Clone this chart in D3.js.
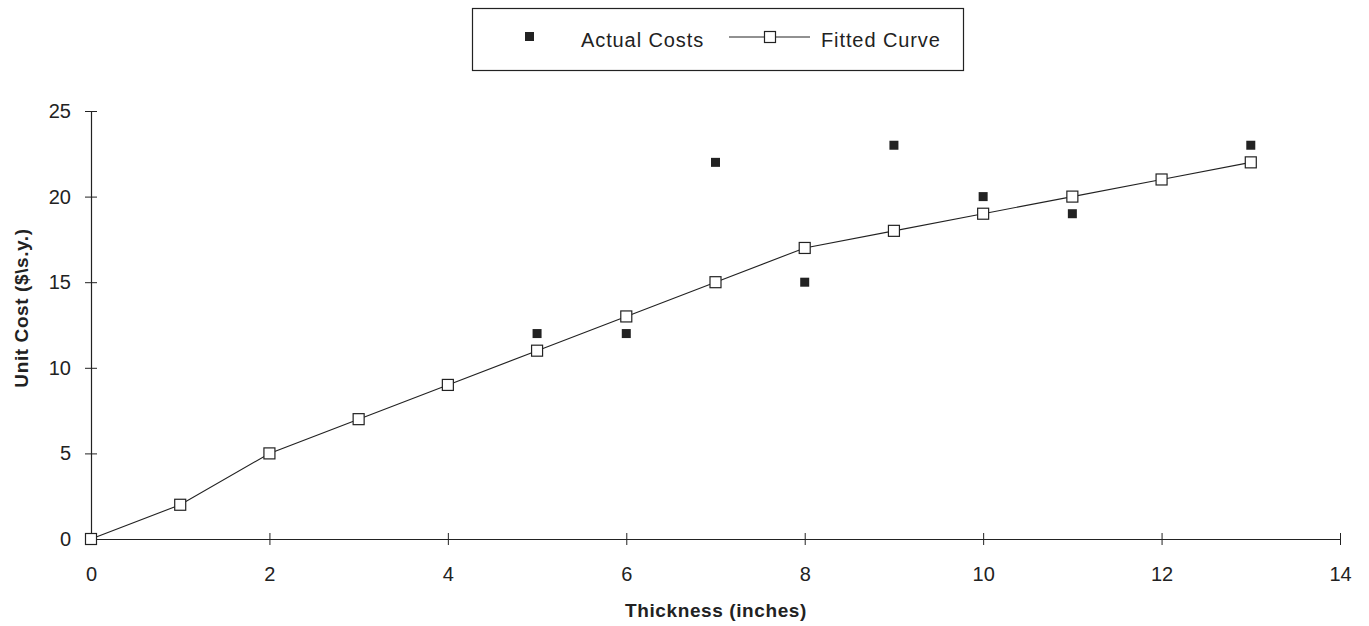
<!DOCTYPE html>
<html><head><meta charset="utf-8">
<script src="https://cdn.jsdelivr.net/npm/d3@7"></script>
<style>body{margin:0;background:#fff;} text{font-family:"Liberation Sans",Arial,sans-serif;fill:#222;}</style>
</head><body>
<svg id="c" width="1369" height="626"></svg>
<script>
const fittedX = [0,1,2,3,4,5,6,7,8,9,10,11,12,13];
const fittedY = [0,2,5,7,9,11,13,15,17,18,19,20,21,22];
const actualX = [5,6,7,8,9,10,11,13];
const actualY = [12,12,22,15,23,20,19,23];
const xTicks = [0,2,4,6,8,10,12,14];
const yTicks = [0,5,10,15,20,25];

const svg = d3.select("#c");
const x = d3.scaleLinear().domain([0,14]).range([91,1340]);
const y = d3.scaleLinear().domain([0,25]).range([539,111]);
const ink = "#222";

// axes
const xa = svg.append("g").attr("transform",`translate(0,${y(0)})`)
  .call(d3.axisBottom(x).tickValues(xTicks).tickSize(0).tickPadding(28));
xa.select(".domain").attr("stroke",ink).attr("stroke-width",1.2);
xa.selectAll(".tick line").remove();
xa.selectAll(".tick").append("line").attr("y1",-6).attr("y2",6).attr("stroke",ink);
xa.selectAll("text").attr("font-size",20).attr("fill",ink).attr("font-family","Liberation Sans, Arial, sans-serif");

const ya = svg.append("g").attr("transform",`translate(${x(0)},0)`)
  .call(d3.axisLeft(y).tickValues(yTicks).tickSize(0).tickPadding(20));
ya.select(".domain").attr("stroke",ink).attr("stroke-width",1.2);
ya.selectAll(".tick line").remove();
ya.selectAll(".tick").append("line").attr("x1",-6).attr("x2",6).attr("stroke",ink);
ya.selectAll("text").attr("font-size",20).attr("fill",ink).attr("font-family","Liberation Sans, Arial, sans-serif");

// axis titles
svg.append("text").attr("x",716).attr("y",617).attr("text-anchor","middle")
  .attr("font-size",19).attr("font-weight","bold").attr("letter-spacing",0.6).text("Thickness (inches)");
svg.append("text").attr("transform","translate(28,308) rotate(-90)").attr("text-anchor","middle")
  .attr("font-size",19).attr("font-weight","bold").attr("letter-spacing",0.6).text("Unit Cost ($\\s.y.)");

// fitted line
const pts = fittedX.map((d,i)=>[d,fittedY[i]]);
svg.append("path").datum(pts)
  .attr("d",d3.line().x(d=>x(d[0])).y(d=>y(d[1])))
  .attr("fill","none").attr("stroke",ink).attr("stroke-width",1.1);
svg.selectAll("rect.fit").data(pts).enter().append("rect")
  .attr("x",d=>x(d[0])-5.5).attr("y",d=>y(d[1])-5.5).attr("width",11).attr("height",11)
  .attr("fill","#fff").attr("stroke",ink).attr("stroke-width",1.2);

// actual
const apts = actualX.map((d,i)=>[d,actualY[i]]);
svg.selectAll("rect.act").data(apts).enter().append("rect")
  .attr("x",d=>x(d[0])-4.5).attr("y",d=>y(d[1])-4.5).attr("width",9).attr("height",9)
  .attr("fill",ink);

// legend
const lg = svg.append("g");
lg.append("rect").attr("x",472.5).attr("y",8.5).attr("width",491).attr("height",62)
  .attr("fill","#fff").attr("stroke",ink).attr("stroke-width",1.2);
lg.append("rect").attr("x",525).attr("y",32).attr("width",9).attr("height",9).attr("fill",ink);
lg.append("text").attr("x",581).attr("y",47).attr("font-size",20).attr("letter-spacing",0.9).text("Actual Costs");
lg.append("line").attr("x1",729).attr("x2",810).attr("y1",37).attr("y2",37).attr("stroke",ink);
lg.append("rect").attr("x",764.5).attr("y",31.5).attr("width",11).attr("height",11)
  .attr("fill","#fff").attr("stroke",ink).attr("stroke-width",1.2);
lg.append("text").attr("x",821).attr("y",47).attr("font-size",20).attr("letter-spacing",0.9).text("Fitted Curve");
</script>
</body></html>
